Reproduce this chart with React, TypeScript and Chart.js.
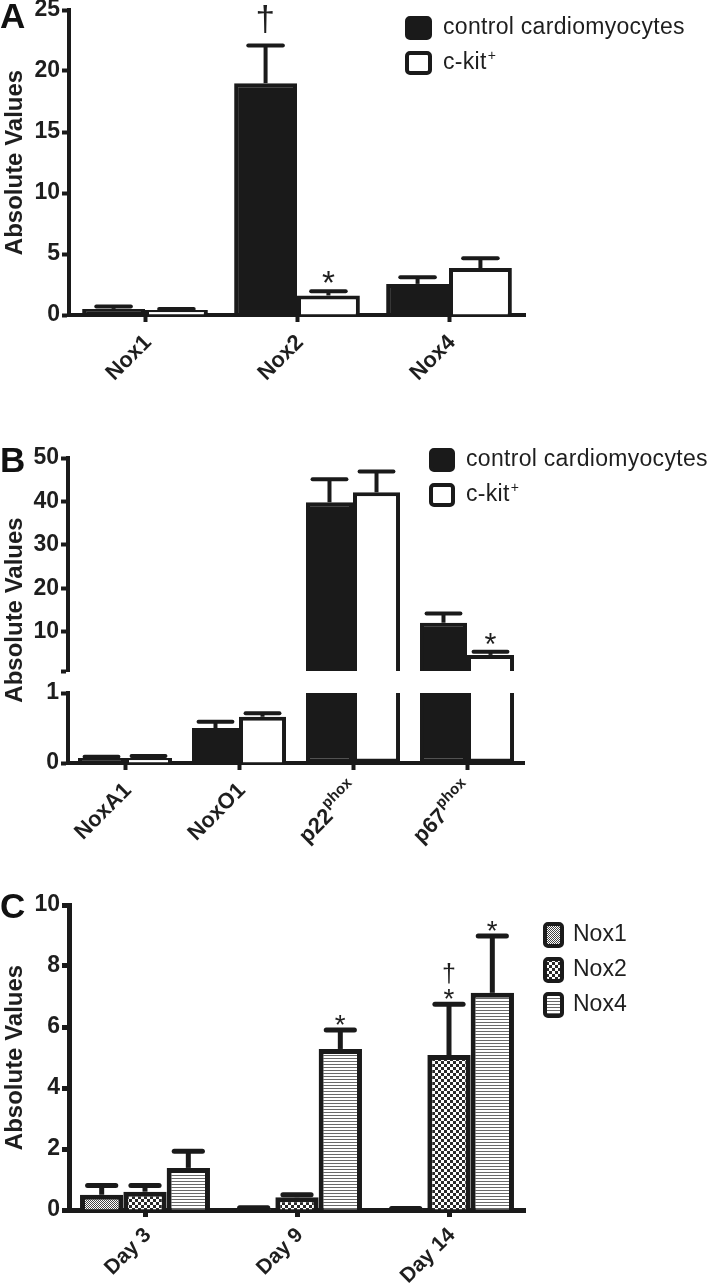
import React, { useEffect, useRef } from 'react';
import { Chart, registerables } from 'chart.js';

Chart.register(...registerables);

const INK = '#1a1a1a';
const TEXT = '#1e1e1e';
const FONT = "'Liberation Sans', Arial, Helvetica, sans-serif";
Chart.defaults.font.family = FONT;

// ---------------- Panel A data ----------------
const aCategories = ['Nox1', 'Nox2', 'Nox4'];
const aControl = [0.5, 19.0, 2.55];
const aControlSem = [0.2, 3.1, 0.55];
const aCkit = [0.4, 1.6, 3.85];
const aCkitSem = [0.1, 0.35, 0.8];
const aControlMarks = ['', '†', ''];
const aCkitMarks = ['', '*', ''];
const aTicks = [0, 5, 10, 15, 20, 25];

// ---------------- Panel B data ----------------
const bCategories = ['NoxA1', 'NoxO1', 'p22^phox', 'p67^phox'];
const bControl = [0.07, 0.5, 39.8, 12.1];
const bControlSem = [0.02, 0.09, 5.3, 2.1];
const bCkit = [0.07, 0.66, 42.1, 4.7];
const bCkitSem = [0.03, 0.05, 4.8, 0.7];
const bControlMarks = ['', '', '', ''];
const bCkitMarks = ['', '', '', '*'];
const bLowerTicks = [0, 1];
const bUpperTicks = [1, 10, 20, 30, 40, 50];
const bUpperTickLabels = ['', '10', '20', '30', '40', '50'];

// ---------------- Panel C data ----------------
const cCategories = ['Day 3', 'Day 9', 'Day 14'];
const cNox1 = [0.5, 0.05, 0.04];
const cNox1Sem = [0.3, 0.02, 0.01];
const cNox2 = [0.6, 0.42, 5.08];
const cNox2Sem = [0.2, 0.08, 1.67];
const cNox4 = [1.38, 5.28, 7.12];
const cNox4Sem = [0.55, 0.62, 1.86];
const cNox1Marks = ['', '', ''];
const cNox2Marks = ['', '', '*†'];
const cNox4Marks = ['', '*', '*'];
const cTicks = [0, 2, 4, 6, 8, 10];

const seriesNames = ['control cardiomyocytes', 'c-kit^+'];
const cSeriesNames = ['Nox1', 'Nox2', 'Nox4'];
const yTitle = 'Absolute Values';

// ---------------- helpers ----------------
function glyphFont(ctx: CanvasRenderingContext2D, ch: string, targetH: number) {
  ctx.font = `100px ${FONT}`;
  const m = ctx.measureText(ch);
  const h = m.actualBoundingBoxAscent + m.actualBoundingBoxDescent || 70;
  return `${((100 * targetH) / h).toFixed(1)}px ${FONT}`;
}

function drawMarks(ctx: CanvasRenderingContext2D, mark: string, x: number, bottom: number, o: any) {
  let b = bottom;
  for (const ch of Array.from(mark)) {
    const isStar = ch === '*';
    ctx.save();
    ctx.font = glyphFont(ctx, ch, isStar ? o.starH : o.daggerH);
    const m = ctx.measureText(ch);
    ctx.fillStyle = TEXT;
    ctx.textAlign = 'left';
    ctx.textBaseline = 'alphabetic';
    const gap = isStar ? o.starGap : o.daggerGap;
    const baseline = b - gap - m.actualBoundingBoxDescent;
    const x0 = x - (m.actualBoundingBoxRight - m.actualBoundingBoxLeft) / 2;
    ctx.fillText(ch, x0, baseline);
    ctx.restore();
    b = baseline - m.actualBoundingBoxAscent;
  }
}

const errorBarPlugin = {
  id: 'errorBars',
  afterDatasetsDraw(chart: any, _a: any, o: any) {
    const ctx = chart.ctx as CanvasRenderingContext2D;
    chart.data.datasets.forEach((ds: any, di: number) => {
      const meta = chart.getDatasetMeta(di);
      const ys = chart.scales[meta.yAxisID];
      meta.data.forEach((bar: any, i: number) => {
        const v = ds.data[i];
        if (v == null) return;
        const e = ds.errors ? ds.errors[i] : null;
        let top = bar.y;
        if (e != null) {
          const yTop = ys.getPixelForValue(v + e);
          const half = (bar.width * o.capFrac) / 2;
          ctx.save();
          ctx.strokeStyle = INK;
          ctx.lineWidth = o.lineWidth;
          ctx.lineCap = 'butt';
          ctx.beginPath();
          ctx.moveTo(bar.x, bar.y);
          ctx.lineTo(bar.x, yTop);
          ctx.stroke();
          ctx.lineCap = 'round';
          ctx.beginPath();
          ctx.moveTo(bar.x - half, yTop);
          ctx.lineTo(bar.x + half, yTop);
          ctx.stroke();
          ctx.restore();
          top = yTop - o.lineWidth / 2;
        }
        const mark = ds.marks ? ds.marks[i] : '';
        if (mark) drawMarks(ctx, mark, bar.x, top, o);
      });
    });
  },
};

const xLabelPlugin = {
  id: 'xLabels',
  afterDraw(chart: any, _a: any, o: any) {
    if (!o || !o.show) return;
    const xs = chart.scales.x;
    const ctx = chart.ctx as CanvasRenderingContext2D;
    (chart.data.labels as string[]).forEach((lab, i) => {
      const [main, sup] = String(lab).split('^');
      const x = xs.getPixelForTick(i) + o.dx;
      const y = xs.top + o.dy;
      ctx.save();
      ctx.translate(x, y);
      ctx.rotate(-Math.PI / 4);
      ctx.fillStyle = TEXT;
      ctx.textBaseline = 'middle';
      ctx.textAlign = 'right';
      let end = 0;
      if (sup) {
        ctx.font = `bold ${o.supSize}px ${FONT}`;
        ctx.fillText(sup, 0, -o.supRaise);
        end = -ctx.measureText(sup).width - 1;
      }
      ctx.font = `bold ${o.size}px ${FONT}`;
      ctx.fillText(main, end, 0);
      ctx.restore();
    });
  },
};

const legendPlugin = {
  id: 'boxLegend',
  afterDraw(chart: any, _a: any, o: any) {
    if (!o || !o.show) return;
    const ctx = chart.ctx as CanvasRenderingContext2D;
    chart.data.datasets.forEach((ds: any, i: number) => {
      const top = o.y + i * o.step;
      const bw = o.border;
      ctx.save();
      ctx.beginPath();
      (ctx as any).roundRect(o.x + bw / 2, top + bw / 2, o.w - bw, o.h - bw, 3);
      ctx.fillStyle = ds.backgroundColor;
      ctx.fill();
      ctx.lineWidth = bw;
      ctx.strokeStyle = INK;
      ctx.stroke();
      const [main, sup] = String(ds.label).split('^');
      ctx.font = `${o.size}px ${FONT}`;
      (ctx as any).letterSpacing = `${o.letterSpacing}px`;
      ctx.fillStyle = TEXT;
      ctx.textAlign = 'left';
      ctx.textBaseline = 'middle';
      const tx = o.x + o.w + o.gap;
      const ty = top + o.h / 2;
      ctx.fillText(main, tx, ty);
      if (sup) {
        const w = ctx.measureText(main).width;
        ctx.font = `${o.supSize}px ${FONT}`;
        ctx.fillText(sup, tx + w + 1, ty - o.supRaise);
      }
      ctx.restore();
    });
  },
};

const panelTextPlugin = {
  id: 'panelText',
  afterDraw(chart: any, _a: any, o: any) {
    const ctx = chart.ctx as CanvasRenderingContext2D;
    if (o.letter) {
      ctx.save();
      ctx.fillStyle = '#111';
      ctx.font = `bold 35px ${FONT}`;
      ctx.textAlign = 'left';
      ctx.textBaseline = 'alphabetic';
      ctx.fillText(o.letter, 0, o.letterY);
      ctx.restore();
    }
    if (o.title) {
      const ca = chart.chartArea;
      const cy = o.titleY != null ? o.titleY : (ca.top + ca.bottom) / 2;
      ctx.save();
      ctx.translate(o.titleX, cy);
      ctx.rotate(-Math.PI / 2);
      ctx.font = `bold 24px ${FONT}`;
      ctx.fillStyle = TEXT;
      ctx.textAlign = 'center';
      ctx.textBaseline = 'middle';
      ctx.fillText(o.title, 0, 0);
      ctx.restore();
    }
  },
};

const PLUGINS = [errorBarPlugin, xLabelPlugin, legendPlugin, panelTextPlugin];

function yAxis(ticks: number[], labels: string[] | null, axisW: number, lw: number) {
  return {
    type: 'linear',
    position: 'left',
    min: ticks[0],
    max: ticks[ticks.length - 1],
    border: { display: true, width: lw, color: INK },
    grid: { drawOnChartArea: false, drawTicks: true, tickLength: 7, tickWidth: lw, tickColor: INK },
    ticks: {
      color: TEXT,
      padding: 2,
      font: { family: FONT, size: 23, weight: 'bold' },
      callback: (v: number) => {
        const k = ticks.indexOf(v);
        return labels ? labels[k] ?? '' : String(v);
      },
    },
    afterBuildTicks: (s: any) => {
      s.ticks = ticks.map((v) => ({ value: v }));
    },
    afterFit: (s: any) => {
      s.width = axisW;
      s.paddingTop = 0;
      s.paddingBottom = 0;
    },
  };
}

function xAxis(h: number, show: boolean, lw: number) {
  return {
    type: 'category',
    position: 'bottom',
    display: show,
    border: { display: true, width: lw, color: INK },
    grid: { drawOnChartArea: false, drawTicks: true, tickLength: 7, tickWidth: lw, tickColor: INK, offset: false },
    ticks: { display: false },
    afterFit: (s: any) => {
      s.height = show ? h : 0;
      s.paddingLeft = 0;
      s.paddingRight = 0;
    },
  };
}

function makePattern(ctx: CanvasRenderingContext2D, kind: string) {
  const t = document.createElement('canvas');
  if (kind === 'fine') {
    t.width = 2;
    t.height = 2;
  } else if (kind === 'check') {
    t.width = 6;
    t.height = 6;
  } else {
    t.width = 4;
    t.height = 3;
  }
  const g = t.getContext('2d')!;
  g.fillStyle = '#ffffff';
  g.fillRect(0, 0, t.width, t.height);
  if (kind === 'fine') {
    g.fillStyle = '#444444';
    g.fillRect(0, 0, 1, 1);
    g.fillRect(1, 1, 1, 1);
  } else if (kind === 'check') {
    g.fillStyle = '#2a2a2a';
    g.fillRect(0, 0, 3, 3);
    g.fillRect(3, 3, 3, 3);
  } else {
    g.fillStyle = '#6a6a6a';
    g.fillRect(0, 0, 4, 1);
  }
  return ctx.createPattern(t, 'repeat') as CanvasPattern;
}

function common(padTop: number, padRight: number, padBottom: number) {
  return {
    responsive: false,
    animation: false,
    layout: { padding: { left: 0, top: padTop, right: padRight, bottom: padBottom } },
    events: [],
  };
}

// ---------------- Panel builders ----------------
function buildA() {
  return {
    type: 'bar',
    data: {
      labels: aCategories,
      datasets: [
        { label: seriesNames[0], data: aControl, errors: aControlSem, marks: aControlMarks, backgroundColor: INK, borderColor: INK, borderWidth: 4 },
        { label: seriesNames[1], data: aCkit, errors: aCkitSem, marks: aCkitMarks, backgroundColor: '#ffffff', borderColor: INK, borderWidth: 4 },
      ],
    },
    options: {
      ...common(10, 720 - 525, 0),
      datasets: { bar: { barPercentage: 1, categoryPercentage: 0.827 } },
      scales: { x: xAxis(85, true, 4), y: yAxis(aTicks, null, 69, 4) },
      plugins: {
        legend: { display: false },
        tooltip: { enabled: false },
        errorBars: { capFrac: 0.55, lineWidth: 4, starH: 12, daggerH: 28, starGap: 6, daggerGap: 10 },
        xLabels: { show: true, size: 22, supSize: 14, supRaise: 7, dx: 3, dy: 24 },
        boxLegend: { show: true, x: 405, y: 16, w: 27, h: 24, step: 35, gap: 11, size: 23, letterSpacing: 0.3, border: 4, supSize: 14, supRaise: 7 },
        panelText: { letter: 'A', letterY: 28, title: yTitle, titleX: 15 },
      },
    },
    plugins: PLUGINS,
  };
}

function buildBUpper() {
  return {
    type: 'bar',
    data: {
      labels: bCategories,
      datasets: [
        { label: seriesNames[0], data: bControl.map((v) => (v > bLowerTicks[1] ? v : null)), errors: bControlSem, marks: bControlMarks, backgroundColor: INK, borderColor: INK, borderWidth: 4 },
        { label: seriesNames[1], data: bCkit.map((v) => (v > bLowerTicks[1] ? v : null)), errors: bCkitSem, marks: bCkitMarks, backgroundColor: '#ffffff', borderColor: INK, borderWidth: 4 },
      ],
    },
    options: {
      ...common(58, 720 - 524, 29),
      datasets: { bar: { barPercentage: 1, categoryPercentage: 0.825 } },
      scales: { x: xAxis(0, false, 4), y: yAxis(bUpperTicks, bUpperTickLabels, 68, 4) },
      plugins: {
        legend: { display: false },
        tooltip: { enabled: false },
        errorBars: { capFrac: 0.72, lineWidth: 4, starH: 11, daggerH: 24, starGap: 5, daggerGap: 8 },
        xLabels: { show: false },
        boxLegend: { show: true, x: 429, y: 48, w: 26, h: 24, step: 35, gap: 11, size: 23, letterSpacing: 0.3, border: 4, supSize: 14, supRaise: 7 },
        panelText: { letter: 'B', letterY: 72 },
      },
    },
    plugins: PLUGINS,
  };
}

function buildBLower() {
  const cap = bLowerTicks[1];
  return {
    type: 'bar',
    data: {
      labels: bCategories,
      datasets: [
        {
          label: seriesNames[0],
          data: bControl.map((v) => Math.min(v, cap)),
          errors: bControl.map((v, i) => (v > cap ? null : bControlSem[i])),
          marks: bControl.map((v, i) => (v > cap ? '' : bControlMarks[i])),
          backgroundColor: INK,
          borderColor: INK,
          borderWidth: 4,
          borderSkipped: (c: any) => (bControl[c.dataIndex] > cap ? 'top' : 'start'),
        },
        {
          label: seriesNames[1],
          data: bCkit.map((v) => Math.min(v, cap)),
          errors: bCkit.map((v, i) => (v > cap ? null : bCkitSem[i])),
          marks: bCkit.map((v, i) => (v > cap ? '' : bCkitMarks[i])),
          backgroundColor: '#ffffff',
          borderColor: INK,
          borderWidth: 4,
          borderSkipped: (c: any) => (bCkit[c.dataIndex] > cap ? 'top' : 'start'),
        },
      ],
    },
    options: {
      ...common(293, 720 - 524, 0),
      datasets: { bar: { barPercentage: 1, categoryPercentage: 0.825 } },
      scales: { x: xAxis(127, true, 4), y: yAxis(bLowerTicks, null, 68, 4) },
      plugins: {
        legend: { display: false },
        tooltip: { enabled: false },
        errorBars: { capFrac: 0.72, lineWidth: 4, starH: 11, daggerH: 24, starGap: 5, daggerGap: 8 },
        xLabels: { show: true, size: 22, supSize: 15, supRaise: 9, dx: 3, dy: 24 },
        boxLegend: { show: false },
        panelText: { title: yTitle, titleX: 15, titleY: 210 },
      },
    },
    plugins: PLUGINS,
  };
}

function buildC(ctx: CanvasRenderingContext2D) {
  const fills = [makePattern(ctx, 'fine'), makePattern(ctx, 'check'), makePattern(ctx, 'lines')];
  const vals = [cNox1, cNox2, cNox4];
  const sems = [cNox1Sem, cNox2Sem, cNox4Sem];
  const marks = [cNox1Marks, cNox2Marks, cNox4Marks];
  return {
    type: 'bar',
    data: {
      labels: cCategories,
      datasets: cSeriesNames.map((name, k) => ({
        label: name,
        data: vals[k],
        errors: sems[k],
        marks: marks[k],
        backgroundColor: fills[k],
        borderColor: INK,
        borderWidth: 5,
      })),
    },
    options: {
      ...common(15, 720 - 525, 0),
      datasets: { bar: { barPercentage: 1, categoryPercentage: 0.855 } },
      scales: { x: xAxis(74, true, 5), y: yAxis(cTicks, null, 69, 5) },
      plugins: {
        legend: { display: false },
        tooltip: { enabled: false },
        errorBars: { capFrac: 0.65, lineWidth: 5, starH: 10, daggerH: 20, starGap: 3, daggerGap: 5 },
        xLabels: { show: true, size: 21, supSize: 14, supRaise: 7, dx: 3, dy: 22 },
        boxLegend: { show: true, x: 543, y: 32, w: 21, h: 26, step: 35, gap: 9, size: 23, letterSpacing: 0, border: 4, supSize: 14, supRaise: 7 },
        panelText: { letter: 'C', letterY: 28, title: yTitle, titleX: 15 },
      },
    },
    plugins: PLUGINS,
  };
}

function ChartCanvas({ top, height, build }: { top: number; height: number; build: (ctx: CanvasRenderingContext2D) => any }) {
  const ref = useRef<HTMLCanvasElement>(null);
  useEffect(() => {
    const canvas = ref.current!;
    const ctx = canvas.getContext('2d')!;
    const chart = new Chart(canvas, build(ctx));
    return () => chart.destroy();
  }, []);
  return (
    <canvas
      ref={ref}
      width={720}
      height={height}
      style={{ position: 'absolute', left: 0, top, width: 720, height, display: 'block' }}
    />
  );
}

export default function App() {
  return (
    <div style={{ position: 'absolute', left: 0, top: 0, width: 720, height: 1284, background: '#ffffff', overflow: 'hidden' }}>
      <ChartCanvas top={0} height={400} build={() => buildA()} />
      <ChartCanvas top={400} height={490} build={() => buildBLower()} />
      <ChartCanvas top={400} height={300} build={() => buildBUpper()} />
      <ChartCanvas top={890} height={394} build={(ctx) => buildC(ctx)} />
    </div>
  );
}
